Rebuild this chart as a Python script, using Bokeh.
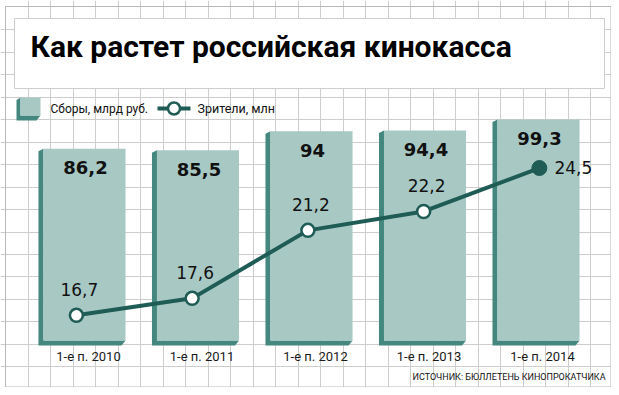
import numpy as np
from bokeh.plotting import figure
from bokeh.models import Range1d, Label, Grid, FixedTicker
from bokeh.core.properties import value
from bokeh.embed import file_html
from bokeh.resources import INLINE

# ---------------- data ----------------
title_text = "Как растет российская кинокасса"
periods = ["1-е п. 2010", "1-е п. 2011", "1-е п. 2012", "1-е п. 2013", "1-е п. 2014"]
box_office = [86.2, 85.5, 94.0, 94.4, 99.3]   # сборы, млрд руб.
viewers = [16.7, 17.6, 21.2, 22.2, 24.5]       # зрители, млн
legend_bars = "Сборы, млрд руб."
legend_line = "Зрители, млн"
source_note = "ИСТОЧНИК: БЮЛЛЕТЕНЬ КИНОПРОКАТЧИКА"


def ru(v):
    return f"{v:g}".replace(".", ",")


# ---------------- style ----------------
W, H = 611, 387
FACE = "#a8c8c4"
SIDE = "#43877e"
LINE = "#1f5c55"
GRID = "#cdcdcd"
INK = "#111111"

X0, X1 = -0.740, 4.643       # bar x range (category units)
Y0, Y1 = -21.12, 152.81      # bar value range
px_x = W / (X1 - X0)
px_y = H / (Y1 - Y0)

p = figure(width=W, height=H, title=None,
           x_range=Range1d(X0, X1), y_range=Range1d(Y0, Y1),
           output_backend="svg", toolbar_location=None, min_border=0,
           x_axis_location=None, y_axis_location=None,
           background_fill_color="white", border_fill_color="white",
           outline_line_color=None)
p.grid.visible = False

# decoration space in page pixels and a second scale for the line series
p.extra_x_ranges = {"px": Range1d(0, W), "lx": Range1d(-0.6557, 4.623)}
p.extra_y_ranges = {"py": Range1d(H, 0), "ly": Range1d(12.88, 33.37)}

# background paper grid
gx_ticks = [float(t) for t in 5 + 22.5 * np.arange(1, 27)]
gy_ticks = [float(t) for t in 7 + 22.45 * np.arange(1, 17)]
p.add_layout(Grid(dimension=0, ticker=FixedTicker(ticks=gx_ticks),
                  x_range_name="px", y_range_name="py",
                  grid_line_color=GRID, grid_line_width=1))
p.add_layout(Grid(dimension=1, ticker=FixedTicker(ticks=gy_ticks),
                  x_range_name="px", y_range_name="py",
                  grid_line_color=GRID, grid_line_width=1))
p.quad(left=[5], right=[610.5], top=[6], bottom=[386.5],
       x_range_name="px", y_range_name="py",
       fill_color=None, line_color="#b8b8b8", line_width=1)

# title box
p.quad(left=[14], right=[604], top=[18], bottom=[88],
       x_range_name="px", y_range_name="py",
       fill_color="white", line_color=GRID, line_width=1)
p.add_layout(Label(x=30, y=46, x_range_name="px", y_range_name="py",
                   text=title_text, text_font="Roboto", text_font_style="bold",
                   text_font_size="30px", text_color="#000000",
                   text_baseline="alphabetic"))

# ---------------- bars (3D look) ----------------
idx = list(range(len(periods)))
hw = 0.3615
dx = 5 / px_x
dy = 5 / px_y
top_slant = 2.5 / px_y
bot_slant = 4 / px_x
xs, ys = [], []
for c, v in zip(idx, box_office):
    l, r = c - hw, c + hw
    xs.append([l, l - dx, l - dx, r - bot_slant, r, l])
    ys.append([v, v - top_slant, -dy, -dy, 0, 0])
p.patches(xs, ys, fill_color=SIDE, line_color=None)
p.vbar(x=idx, top=box_office, bottom=0, width=2 * hw,
       fill_color=FACE, line_color=None)

p.text(x=idx, y=box_office, text=[ru(v) for v in box_office],
       x_offset=1, y_offset=19, text_align="center", text_baseline="alphabetic",
       text_font=value("DejaVu Sans"), text_font_style="bold",
       text_font_size="18px", text_color=INK)

p.text(x=idx, y=[0] * len(idx), text=periods,
       x_offset=4, y_offset=16, text_align="center", text_baseline="alphabetic",
       text_font=value("Roboto"), text_font_size="13px", text_color="#1a1a1a")

# ---------------- viewers line ----------------
p.line(x=idx, y=viewers, x_range_name="lx", y_range_name="ly",
       line_color=LINE, line_width=4)
p.scatter(x=idx[:-1], y=viewers[:-1], x_range_name="lx", y_range_name="ly",
          size=13, fill_color="white", line_color=LINE, line_width=2.5)
p.scatter(x=idx[-1:], y=viewers[-1:], x_range_name="lx", y_range_name="ly",
          size=15, fill_color=LINE, line_color=LINE, line_width=1)

p.text(x=idx[:-1], y=viewers[:-1], text=[ru(v) for v in viewers[:-1]],
       x_range_name="lx", y_range_name="ly",
       x_offset=3, y_offset=-26, text_align="center", text_baseline="alphabetic",
       text_font=value("DejaVu Sans"), text_font_size="17px", text_color=INK)
p.text(x=idx[-1:], y=viewers[-1:], text=[ru(v) for v in viewers[-1:]],
       x_range_name="lx", y_range_name="ly",
       x_offset=15, y_offset=-1, text_align="left", text_baseline="middle",
       text_font=value("DejaVu Sans"), text_font_size="17px", text_color=INK)

# ---------------- legend ----------------
p.patch(x=[20, 16, 16, 36, 40, 20], y=[97, 99.5, 120, 120, 115, 115],
        x_range_name="px", y_range_name="py", fill_color=SIDE, line_color=None)
p.quad(left=[20], right=[40], top=[97], bottom=[115],
       x_range_name="px", y_range_name="py", fill_color=FACE, line_color=None)
p.add_layout(Label(x=50, y=108, x_range_name="px", y_range_name="py",
                   text=legend_bars, text_font="Roboto", text_font_size="12px",
                   text_color=INK, text_baseline="alphabetic"))
p.line(x=[157, 190], y=[108, 108], x_range_name="px", y_range_name="py",
       line_color=LINE, line_width=4)
p.scatter(x=[173.5], y=[108], x_range_name="px", y_range_name="py",
          size=12, fill_color="white", line_color=LINE, line_width=2.5)
p.add_layout(Label(x=197, y=108, x_range_name="px", y_range_name="py",
                   text=legend_line, text_font="Roboto", text_font_size="12.5px",
                   text_color=INK, text_baseline="alphabetic"))

# source
p.add_layout(Label(x=605, y=376, x_range_name="px", y_range_name="py",
                   text=source_note, text_font="Roboto", text_font_size="9px",
                   text_color=INK, text_align="right", text_baseline="alphabetic"))

open("out.html", "w").write(file_html(p, INLINE))
